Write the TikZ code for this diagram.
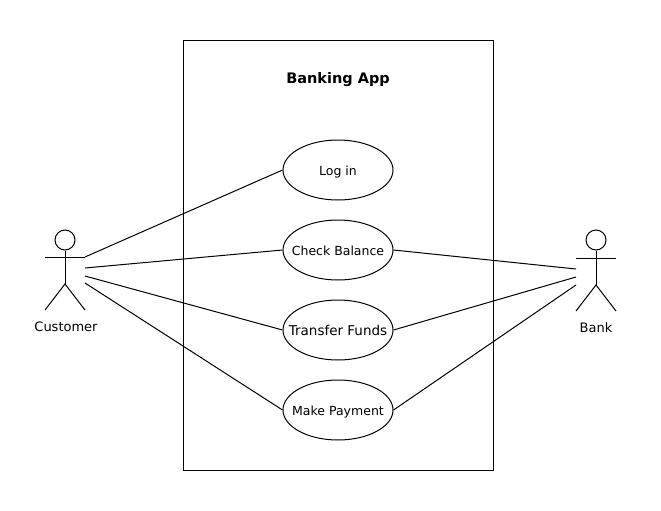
\documentclass[tikz,border=0pt]{standalone}
\usepackage{fontspec}
\setmainfont{DejaVu Sans}
\usetikzlibrary{shapes.geometric}
\newcommand{\fixedw}[1]{\makebox[0pt][c]{\raisebox{-5pt}[0pt][0pt]{#1}}}
\tikzset{
  usecase/.style={draw=black,ellipse,line width=1pt,minimum width=110pt,minimum height=60pt,inner sep=0pt,font=\fontsize{12.5}{14}\selectfont},
  link/.style={draw=black,line width=1pt},
  actorline/.style={draw=black,line width=1pt},
  actorhead/.style={draw=black,circle,line width=1pt,minimum size=20pt,inner sep=0pt},
  actorlabel/.style={font=\fontsize{13}{15}\selectfont,inner sep=0pt},
  sysbox/.style={draw=black,line width=1pt},
  title/.style={font=\fontsize{14.5}{18}\selectfont\bfseries,inner sep=0pt}
}
\begin{document}
\begin{tikzpicture}[x=1pt,y=-1pt]
\useasboundingbox (0,0) rectangle (661,511);
\fill[white] (0,0) rectangle (661,511);
\node[sysbox,minimum width=310pt,minimum height=429pt,inner sep=0pt] (system) at (338,255.5) {};
\node[title] (apptitle) at (338,80) {Banking App};
\node[usecase] (login) at (338,170) {\fixedw{Log in}};
\node[usecase] (balance) at (338,250) {\fixedw{Check Balance}};
\node[usecase,font=\fontsize{13.5}{14}\selectfont] (transfer) at (338,330) {\fixedw{Transfer Funds}};
\node[usecase] (payment) at (338,410) {\fixedw{Make Payment}};
% Customer
\node[actorhead] (chead) at (65,240) {};
\coordinate (cfoot) at (65,284);
\coordinate (carmL) at (45,257);
\coordinate (carmR) at (85,257);
\coordinate (clegL) at (45,310);
\coordinate (clegR) at (85,310);
\draw[actorline] (chead.south) -- (cfoot);
\draw[actorline] (carmL) -- (carmR);
\draw[actorline] (clegL) -- (cfoot) -- (clegR);
\node[actorlabel] (customer) at (66,327) {Customer};
\coordinate (c2) at (85,268);
\coordinate (c3) at (85,276);
\coordinate (c4) at (85,283);
% Bank
\node[actorhead] (bhead) at (596,240) {};
\coordinate (bfoot) at (596,285);
\coordinate (barmL) at (576,258);
\coordinate (barmR) at (616,258);
\coordinate (blegL) at (576,311);
\coordinate (blegR) at (616,311);
\draw[actorline] (bhead.south) -- (bfoot);
\draw[actorline] (barmL) -- (barmR);
\draw[actorline] (blegL) -- (bfoot) -- (blegR);
\node[actorlabel] (bank) at (596,328) {Bank};
\coordinate (b2) at (576,269);
\coordinate (b3) at (576,277);
\coordinate (b4) at (576,285);
% Connectors
\draw[link] (carmR) -- (login.west);
\draw[link] (c2) -- (balance.west);
\draw[link] (c3) -- (transfer.west);
\draw[link] (c4) -- (payment.west);
\draw[link] (balance.east) -- (b2);
\draw[link] (transfer.east) -- (b3);
\draw[link] (payment.east) -- (b4);
\end{tikzpicture}
\end{document}
